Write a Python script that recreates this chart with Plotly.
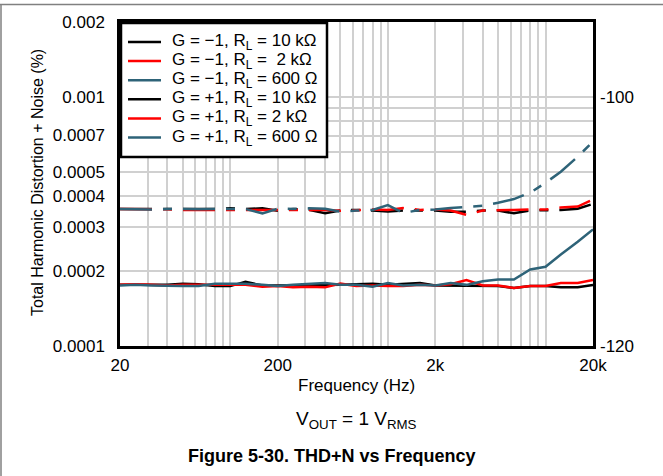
"""
THD+N vs Frequency (Figure 5-30)
"""

import math
import plotly.graph_objects as go

# frekans noktalari (Hz)
freq = [20, 25, 31.5, 40, 50, 63, 80, 100, 125, 160, 200, 250, 315, 400, 500, 630,
        800, 1000, 1250, 1600, 2000, 2500, 3150, 4000, 5000, 6300, 8000, 10000,
        12500, 16000, 20000]

# G = -1 (x1e-4 %)
g_m1_10k = [3.55, 3.56, 3.55, 3.55, 3.54, 3.55, 3.55, 3.57, 3.55, 3.57, 3.49, 3.55,
            3.52, 3.41, 3.50, 3.52, 3.50, 3.47, 3.50, 3.50, 3.50, 3.46, 3.46, 3.50,
            3.50, 3.41, 3.50, 3.51, 3.52, 3.56, 3.72]
g_m1_2k = [3.55, 3.55, 3.54, 3.54, 3.52, 3.52, 3.52, 3.52, 3.52, 3.52, 3.51, 3.53,
           3.52, 3.52, 3.49, 3.51, 3.53, 3.52, 3.58, 3.52, 3.53, 3.50, 3.36, 3.50,
           3.52, 3.52, 3.53, 3.53, 3.60, 3.63, 3.88]
g_m1_600 = [3.55, 3.54, 3.53, 3.55, 3.54, 3.54, 3.55, 3.55, 3.55, 3.41, 3.56, 3.55,
            3.57, 3.56, 3.46, 3.50, 3.52, 3.68, 3.42, 3.52, 3.53, 3.58, 3.61, 3.66,
            3.76, 3.89, 4.13, 4.52, 5.01, 5.76, 6.61]

# G = +1 (x1e-4 %)
g_p1_10k = [1.76, 1.76, 1.75, 1.76, 1.78, 1.77, 1.74, 1.74, 1.81, 1.75, 1.75, 1.75,
            1.75, 1.75, 1.76, 1.77, 1.78, 1.76, 1.77, 1.79, 1.75, 1.75, 1.75, 1.74,
            1.74, 1.71, 1.74, 1.74, 1.72, 1.72, 1.76]
g_p1_2k = [1.76, 1.77, 1.76, 1.75, 1.76, 1.76, 1.76, 1.75, 1.76, 1.73, 1.74, 1.72,
           1.73, 1.72, 1.78, 1.74, 1.75, 1.74, 1.74, 1.76, 1.75, 1.77, 1.84, 1.75,
           1.75, 1.71, 1.74, 1.74, 1.79, 1.79, 1.84]
g_p1_600 = [1.75, 1.76, 1.75, 1.74, 1.74, 1.74, 1.78, 1.78, 1.78, 1.76, 1.74, 1.76,
            1.78, 1.79, 1.76, 1.76, 1.73, 1.79, 1.75, 1.76, 1.75, 1.79, 1.76, 1.82,
            1.85, 1.85, 2.03, 2.08, 2.33, 2.62, 2.94]

x_ticks = [20, 200, 2000, 20000]
x_labels = ["20", "200", "2k", "20k"]
y_ticks = [0.0001, 0.0002, 0.0003, 0.0004, 0.0005, 0.0007, 0.001, 0.002]
y_labels = ["0.0001", "0.0002", "0.0003", "0.0004", "0.0005", "0.0007", "0.001", "0.002"]
y2_ticks = [-100, -120]
y2_labels = ["-100", "-120"]

BLACK = "#000000"
RED = "#ff0000"
BLUE = "#2e6378"
FONT = "Arial, Liberation Sans, sans-serif"
GRID = "#d0d0d0"
BROKEN = "32px,11px,9px,11px"

series = [
    (g_m1_10k, BLACK, "G = \u22121, R<sub>L</sub> = 10 k\u03a9", True),
    (g_m1_2k, RED, "G = \u22121, R<sub>L</sub> =\u00a0 2 k\u03a9", True),
    (g_m1_600, BLUE, "G = \u22121, R<sub>L</sub> = 600 \u03a9", True),
    (g_p1_10k, BLACK, "G = +1, R<sub>L</sub> = 10 k\u03a9", False),
    (g_p1_2k, RED, "G = +1, R<sub>L</sub> = 2 k\u03a9", False),
    (g_p1_600, BLUE, "G = +1, R<sub>L</sub> = 600 \u03a9", False),
]

# sayfa koordinatlari (piksel -> paper)
L, R, T, B = 120, 70, 22, 130
W, H = 663, 476
pw, ph = W - L - R, H - T - B


def px(xp):
    return (xp - L) / pw


def py(yp):
    return (H - B - yp) / ph


fig = go.Figure()

for vals, color, name, broken in series:
    fig.add_trace(go.Scatter(
        x=freq,
        y=[v * 1e-4 for v in vals],
        mode="lines",
        name=name,
        showlegend=False,
        line=dict(color=color, width=2.5, dash=BROKEN if broken else "solid"),
    ))

# sag eksen (dB) icin bos iz
fig.add_trace(go.Scatter(x=[None], y=[None], yaxis="y2", showlegend=False,
                         hoverinfo="skip"))

# izgara degerleri
x_grid = [m * 10 ** d for d in range(1, 5) for m in range(1, 10)
          if 20 <= m * 10 ** d <= 20000]
y_grid = [m * 10 ** d for d in (-4, -3) for m in range(1, 10)
          if m * 10 ** d <= 0.002]

# lejant (kutu + cizgiler + yazilar)
shapes = [
    dict(type="line", xref="paper", yref="paper", x0=px(0), x1=px(W),
         y0=py(4.5), y1=py(4.5), line=dict(color="#808080", width=1.5)),
    dict(type="line", xref="paper", yref="paper", x0=px(1), x1=px(1),
         y0=py(4.5), y1=py(H), line=dict(color="#808080", width=1.5)),
    dict(type="rect", xref="paper", yref="paper", layer="above",
         x0=px(121), x1=px(327), y0=py(23), y1=py(157),
         fillcolor="white", line=dict(color="black", width=2.5)),
]
annotations = []
for i, (_, color, name, _b) in enumerate(series):
    yc = 42 + i * 19.1
    shapes.append(dict(type="line", xref="paper", yref="paper", layer="above",
                       x0=px(128), x1=px(161), y0=py(yc), y1=py(yc),
                       line=dict(color=color, width=2.5)))
    annotations.append(dict(text=name, x=px(170), y=py(yc), xref="paper",
                            yref="paper", xanchor="left", yanchor="middle",
                            showarrow=False, font=dict(size=17)))

annotations += [
    dict(text="Total Harmonic Distortion + Noise (%)", textangle=-90,
         x=px(37), y=py(183), xref="paper", yref="paper",
         xanchor="center", yanchor="middle", showarrow=False, font=dict(size=16)),
    dict(text="Frequency (Hz)", x=px(356), y=py(385), xref="paper", yref="paper",
         xanchor="center", yanchor="middle", showarrow=False, font=dict(size=17)),
    dict(text="V<sub>OUT</sub> = 1 V<sub>RMS</sub>", x=px(356), y=py(420),
         xref="paper", yref="paper", xanchor="center", yanchor="middle",
         showarrow=False, font=dict(size=19)),
    dict(text="<b>Figure 5-30. THD+N vs Frequency</b>", x=px(332), y=py(456),
         xref="paper", yref="paper", xanchor="center", yanchor="middle",
         showarrow=False, font=dict(size=18)),
]

fig.update_layout(
    width=W,
    height=H,
    margin=dict(l=L, r=R, t=T, b=B),
    paper_bgcolor="white",
    plot_bgcolor="white",
    font=dict(family=FONT, size=17, color="black"),
    showlegend=False,
    xaxis=dict(
        type="log",
        range=[math.log10(20), math.log10(20000)],
        tickvals=x_ticks, ticktext=x_labels,
        showgrid=True, gridcolor=GRID, gridwidth=1.5,
        minor=dict(tickvals=x_grid, showgrid=True, gridcolor=GRID, gridwidth=1.5),
        showline=True, linecolor="black", linewidth=2.5, mirror=True,
        ticks="", ticklabelstandoff=2, zeroline=False,
    ),
    yaxis=dict(
        type="log",
        range=[-4, math.log10(0.002)],
        tickvals=y_ticks, ticktext=y_labels,
        showgrid=True, gridcolor=GRID, gridwidth=1.5,
        minor=dict(tickvals=y_grid, showgrid=True, gridcolor=GRID, gridwidth=1.5),
        showline=True, linecolor="black", linewidth=2.5, mirror=True,
        ticks="", ticklabelstandoff=9, zeroline=False,
    ),
    yaxis2=dict(
        overlaying="y", side="right",
        range=[-120, 20 * math.log10(0.002) - 40],
        tickvals=y2_ticks, ticktext=y2_labels,
        showgrid=False, zeroline=False, showline=False,
        ticks="", ticklabelstandoff=6,
    ),
    shapes=shapes,
    annotations=annotations,
)

fig.write_html("out.html", config={"displayModeBar": False},
               post_script="document.body.style.margin='0';")
